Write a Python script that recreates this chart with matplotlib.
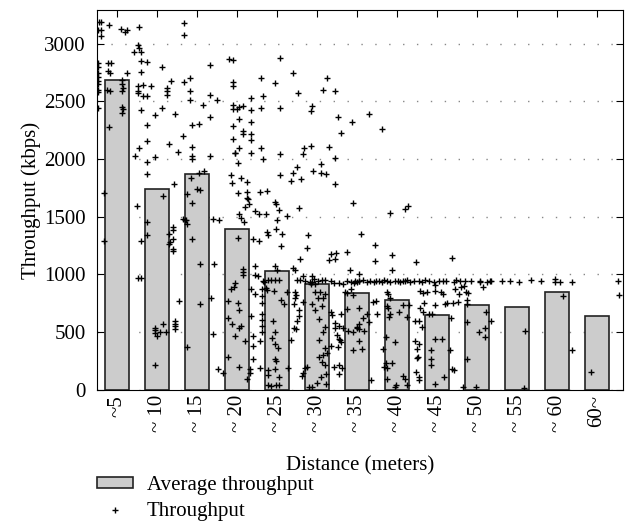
import matplotlib
matplotlib.use("Agg")
import matplotlib.pyplot as plt

plt.rcParams['font.family'] = ['Liberation Serif', 'DejaVu Serif']

# bins and average throughput per bin
bin_labels = ["~5", "~ 10", "~ 15", "~ 20", "~ 25", "~ 30", "~ 35",
              "~ 40", "~ 45", "~ 50", "~ 55", "~ 60", "60~"]
bin_centers = [2.5, 7.5, 12.5, 17.5, 22.5, 27.5, 32.5,
               37.5, 42.5, 47.5, 52.5, 57.5, 62.5]
avg_kbps = [2685, 1740, 1870, 1395, 1030, 920, 840, 775, 650, 737, 717, 852, 642]

# individual measurements (distance in meters, throughput in kbps)
dist_m = [
    # 0-5 m
    0.25, 0.5, 0.1, 0.5, 0.5, 1.5, 3.0, 3.5, 3.75,
    0.1, 0.1, 0.1, 0.1, 0.1, 0.1, 0.1, 0.1, 0.1,
    1.4, 1.7, 1.4, 1.6, 3.7, 1.3, 1.6,
    3.1, 3.1, 3.2, 3.1, 3.1, 3.2, 3.1,
    1.5, 0.9, 0.9, 4.6, 4.75, 4.96,
    # 5-10 m
    5.2, 5.1, 5.25, 5.5, 5.5, 6.25, 5.5, 8.1,
    5.1, 5.7, 6.7, 5.1, 5.1, 5.8, 6.3, 8.75, 8.75, 8.75, 9.3,
    5.5, 8.1, 7.25, 9.7, 6.3, 6.3, 5.3, 9.0, 7.25, 6.25, 6.25, 9.6, 8.3,
    6.2, 6.2, 5.5, 9.5, 9.5, 9.5, 9.1, 9.5, 9.5, 9.0, 9.0,
    5.1, 5.5, 7.25, 7.25, 7.3, 7.5, 7.9, 8.6, 8.3, 9.7, 9.7, 9.7, 9.7, 7.25,
    # 10-15 m
    10.9, 10.9, 10.9, 11.6, 11.6, 11.6, 14.1, 14.1, 15.0, 13.2, 14.1, 11.9, 12.8,
    10.7, 11.9, 10.1, 11.9, 11.9, 14.1,
    11.7, 12.75, 13.4, 11.25, 12.5, 12.9, 11.9,
    10.7, 11.1, 11.2, 11.0, 11.9, 14.5, 15.2, 12.9, 14.6,
    10.25, 12.9, 14.2, 11.3, 14.5, 15.1, 15.8,
    # 15-20 m
    16.5, 17.0, 17.0, 17.0, 19.3, 17.0, 17.5, 17.0, 17.75, 18.25, 19.3, 17.7, 19.3,
    17.0, 18.2, 18.3, 19.3, 19.3, 17.0, 17.75, 17.2, 17.3, 19.3, 17.6,
    16.7, 16.9, 18.0, 18.8, 17.6, 18.8, 18.8, 18.9, 19.0,
    18.5, 17.7, 18.0, 18.4, 19.8, 17.6, 19.5, 16.4, 16.4, 16.4,
    18.3, 18.3, 18.3, 17.3, 17.1, 16.75, 17.6, 17.7, 16.9, 17.7, 18.0, 17.3,
    17.75, 18.5, 18.75, 19.1, 19.1, 19.25, 19.7, 19.2, 19.5, 19.5, 19.5, 19.8, 19.8,
    # 20-25 m
    20.5, 22.2, 20.75, 20.5, 22.9, 22.9, 24.5, 20.5, 22.9, 20.8, 22.9, 24.5, 24.3,
    25.0, 20.4, 21.3,
    22.2, 22.4, 22.75, 20.3, 21.1, 22.5, 23.75, 21.3, 21.4, 22.4, 23.1, 20.3, 23.0,
    24.5, 24.75, 22.2, 22.5, 20.1,
    20.75, 20.9, 21.4, 21.8, 22.3, 22.8,
    20.4, 20.6, 20.6, 20.6, 20.6, 20.6, 20.6, 20.6, 20.4, 21.1, 21.25, 22.1, 22.0,
    22.25, 21.9, 22.2, 22.6, 22.25, 22.4, 22.3, 22.7, 21.4, 21.4, 21.4, 21.7, 22.4, 22.8,
    23.0, 23.4, 23.75, 23.9, 24.2, 24.7, 24.9, 24.6, 24.8, 24.6, 24.9,
    # 25-30 m
    25.1, 28.75, 28.25, 29.75, 26.9, 26.7, 25.9, 26.7, 29.0, 25.75, 29.75, 27.0,
    28.0, 28.0, 28.6, 25.5, 29.75, 25.2, 26.4, 26.2, 29.2, 29.9, 29.0, 29.8, 25.4,
    25.8, 26.9, 27.1,
    25.0, 25.4, 26.0, 26.6, 26.9, 27.6, 28.1, 28.5, 29.2, 29.6,
    25.0, 25.25, 25.7, 25.2, 25.75, 25.6, 26.0, 26.3, 26.5, 26.9,
    26.75, 27.25, 27.2, 27.9, 27.6, 26.9, 27.25, 28.1, 28.3, 28.5, 27.7, 28.5, 28.3,
    27.75, 28.5, 28.2, 27.7, 28.75, 28.1, 28.0, 28.5, 28.6, 27.5, 28.6,
    29.3, 29.4, 29.7, 29.8, 29.25, 29.6,
    # 30-35 m
    30.1, 31.9, 30.5, 34.0, 32.0, 33.0, 34.8, 31.3, 31.6, 34.8, 32.7,
    30.3, 30.8, 31.25, 31.7, 32.1, 32.5, 32.8, 32.25, 32.75, 33.25, 33.7, 34.1, 34.6, 34.9,
    30.0, 30.2, 30.4, 30.5, 30.3, 30.7, 30.5, 30.1, 30.2, 30.2, 30.6,
    31.0, 31.25, 31.75, 32.0, 31.2, 31.4, 32.0, 32.0, 32.5, 32.75, 32.75, 32.8,
    33.2, 33.75, 34.0, 32.7, 32.5, 33.4, 33.1, 34.5, 34.9, 35.0, 34.3,
    # 35-40 m
    35.6, 36.6, 38.5, 38.9, 36.9, 39.9, 36.9,
    35.25, 35.6, 35.9, 36.25, 36.6, 37.25, 37.6, 37.9, 38.25, 38.5, 38.75, 39.1, 39.6,
    36.25, 36.4, 36.6, 36.25, 36.4, 36.6, 36.5, 37.8, 38.8, 38.25, 39.0, 37.3, 36.1,
    35.8, 36.1, 35.9, 36.25, 36.9, 36.3, 37.2, 37.4, 38.3, 38.5, 38.8, 39.75, 39.75, 39.9,
    # 40-45 m
    44.4,
    40.2, 40.6, 41.0, 41.5, 42.1, 42.7, 43.2, 43.6, 44.6, 44.9,
    40.2, 40.8, 40.6, 40.3, 40.0, 40.1, 40.0, 40.25, 40.3,
    40.4, 40.75, 41.25, 42.2, 42.3, 43.0, 43.2, 40.9, 40.4,
    42.25, 43.5, 43.75, 44.5, 44.3, 41.5, 41.9, 42.3, 43.1, 41.7, 41.8, 41.75, 43.4,
    42.2, 44.1, 44.4, 44.6, 44.75,
    # 45-50 m
    45.1, 45.5, 45.9, 46.1, 45.2, 46.4, 46.25, 46.3, 47.9, 48.2,
    45.4, 46.0, 46.7, 47.9, 48.8, 49.1, 49.3,
    46.3, 47.7, 48.6, 48.5, 48.5, 46.25, 45.8, 47.4, 49.25,
    # 50+ m
    50.6, 51.6, 52.8, 54.2, 55.5, 57.2, 57.25, 57.9, 59.4, 65.1, 65.2,
    53.5, 53.4, 58.25, 59.4, 61.8,
]
thr_kbps = [
    # 0-5 m
    3188, 3188, 3115, 3115, 3065, 3156, 3128, 3096, 3117,
    2830, 2799, 2748, 2707, 2679, 2650, 2598, 2581, 2443,
    2834, 2834, 2765, 2741, 2748, 2598, 2592,
    2684, 2650, 2615, 2592, 2454, 2431, 2402,
    2275, 1705, 1290, 2926, 2028, 1592,
    # 5-10 m
    3139, 2984, 2961, 2926, 2845, 2840, 2753, 2799,
    2633, 2644, 2633, 2592, 2569, 2549, 2543, 2615, 2586, 2558, 2673,
    2428, 2439, 2381, 2391, 2295, 2153, 2096, 2131, 2016, 1973, 1873, 1780, 1682,
    1454, 1339, 1290, 1411, 1382, 1310, 1281, 1224, 1203, 1354, 1267,
    968, 973, 538, 516, 493, 464, 505, 505, 569, 597, 574, 552, 529, 216,
    # 10-15 m
    3177, 3076, 2663, 2704, 2586, 2512, 2811, 2558, 2512, 2466, 2368, 2295, 2302,
    2200, 2108, 2059, 2028, 2001, 2028,
    1838, 1878, 1895, 1696, 1742, 1730, 1621,
    1484, 1469, 1435, 1474, 1310, 1484, 1475, 1089, 1094,
    771, 748, 795, 374, 489, 184, 150,
    # 15-20 m
    2864, 2853, 2663, 2628, 2532, 2466, 2437, 2437, 2448, 2460, 2428, 2350, 2322,
    2287, 2240, 2217, 2214, 2167, 2171, 2096, 2050, 2056, 2050, 1966,
    1861, 1792, 1832, 1803, 1705, 1717, 1661, 1650, 1610,
    1584, 1526, 1486, 1451, 1549, 1318, 1310, 771, 627, 282,
    1048, 1019, 996, 927, 892, 875, 754, 696, 570, 541, 553, 464,
    201, 424, 98, 178, 143, 875, 829, 639, 464, 385, 270, 1076, 996,
    # 20-25 m
    2698, 2657, 2543, 2445, 2876, 2445, 2743, 2096, 2041, 1996, 1861, 1875, 1811,
    1932, 1711, 1722,
    1630, 1607, 1560, 1526, 1526, 1469, 1503, 1365, 1342, 1394, 1354, 1293, 1244,
    1054, 1042, 1071, 1042, 985,
    944, 933, 950, 950, 950, 950,
    190, 875, 817, 754, 662, 605, 553, 505, 420, 881, 863, 857, 597,
    505, 449, 402, 367, 264, 247, 178, 109, 172, 132, 46, 32, 46, 46,
    777, 748, 852, 190, 432, 852, 823, 748, 795, 541, 524,
    # 25-30 m
    2575, 2704, 2598, 2586, 2460, 2414, 2096, 2113, 2105, 2047, 2007, 1897,
    1955, 1875, 1869, 1823, 1780, 1572, 1342, 1227, 1180, 1186, 1123, 1134, 1134,
    985, 985, 962,
    950, 950, 947, 939, 933, 947, 950, 950, 947, 930,
    597, 696, 765, 639, 143, 121, 190, 201, 23, 23,
    916, 921, 847, 852, 800, 743, 691, 726, 795, 829, 611, 547, 501,
    437, 363, 305, 282, 323, 242, 109, 219, 138, 57, 52,
    679, 651, 581, 536, 385, 196,
    # 30-35 m
    2364, 2322, 2229, 2393, 1616, 1354, 1252, 1195, 1042, 1117, 1008,
    930, 921, 947, 933, 930, 933, 947, 945, 940, 950, 938, 945, 935, 948,
    478, 443, 432, 415, 558, 541, 657, 368, 219, 138, 190,
    852, 840, 875, 823, 702, 512, 505, 344, 541, 708, 426, 570,
    622, 662, 593, 524, 547, 512, 357, 760, 771, 662, 86,
    # 35-40 m
    2260, 1534, 1569, 1592, 1165, 1111, 1037,
    942, 936, 950, 944, 938, 948, 940, 933, 946, 940, 950, 936, 944,
    852, 829, 800, 726, 708, 662, 633, 674, 633, 737, 737, 415, 455,
    351, 230, 201, 190, 236, 98, 23, 46, 121, 92, 46, 597, 420, 155,
    # 40-45 m
    1140,
    945, 938, 950, 942, 935, 948, 940, 944, 936, 950,
    597, 679, 547, 402, 357, 288, 276, 109, 86,
    857, 844, 850, 907, 861, 850, 833, 754, 708,
    737, 748, 754, 754, 622, 662, 662, 443, 443, 346, 264, 213, 115,
    52, 346, 184, 173, 875,
    # 45-50 m
    760, 892, 898, 852, 835, 840, 777, 748, 933, 892,
    945, 940, 948, 944, 938, 944, 944,
    593, 505, 674, 536, 455, 270, 23, 23, 597,
    # 50+ m
    944, 944, 938, 950, 944, 961, 938, 938, 933, 944, 823,
    512, 17, 817, 346, 155,
]

fig = plt.figure(figsize=(6.25, 5.22), dpi=100)
ax = fig.add_axes([0.1552, 0.2529, 0.8416, 0.7279])

bars = ax.bar(bin_centers, avg_kbps, width=3.0, color="#cccccc", edgecolor="#222222",
              linewidth=1.2, label="Average throughput", zorder=2)
pts, = ax.plot(dist_m, thr_kbps, linestyle="none", marker="+", color="black",
               markersize=4.5, markeredgewidth=1.0, label="Throughput", zorder=3)

ax.set_xlim(0, 65.75)
ax.set_ylim(0, 3290)
ax.set_yticks(range(0, 3001, 500))
ax.set_xticks(bin_centers)
ax.set_xticklabels(bin_labels, rotation=90, fontsize=15)
ax.tick_params(axis="y", labelsize=15, pad=8)
ax.tick_params(direction="in", top=True, right=True, length=5)
ax.yaxis.grid(True, linestyle=(0, (1, 9)), color="#888888", linewidth=1)
ax.set_axisbelow(True)

ax.set_ylabel("Throughput (kbps)", fontsize=15, labelpad=2)
ax.set_xlabel("Distance (meters)", fontsize=15, labelpad=17)

fig.legend([bars, pts], ["Average throughput", "Throughput"], loc="upper left",
           bbox_to_anchor=(0.155, 0.088), borderaxespad=0, borderpad=0,
           frameon=False, fontsize=15, handlelength=1.75, handleheight=0.4,
           handletextpad=0.65, labelspacing=0.35)

fig.savefig("out.png", dpi=100)
